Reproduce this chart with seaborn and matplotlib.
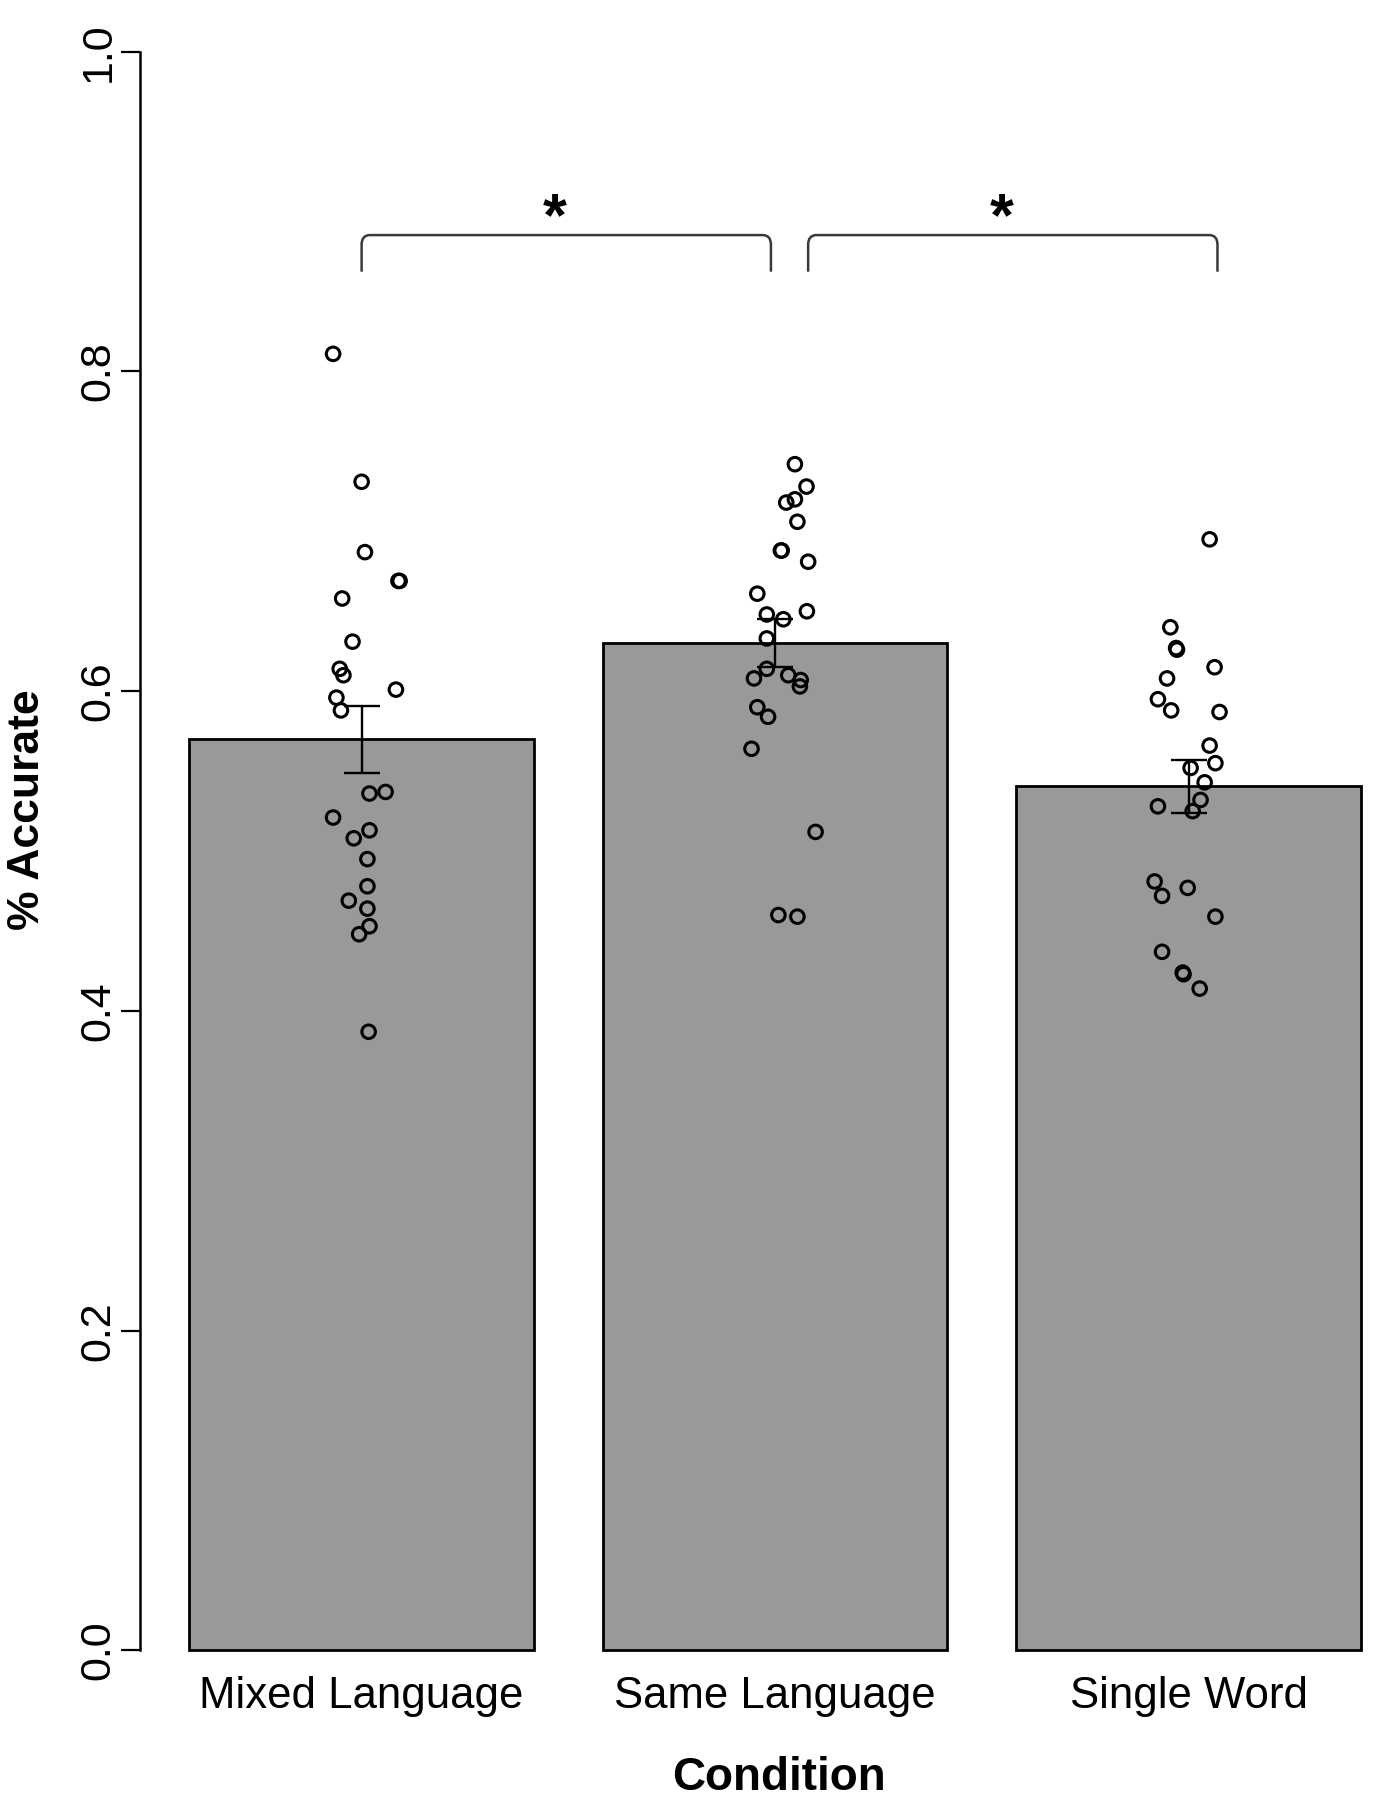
import matplotlib
matplotlib.use("Agg")
import numpy as np
import pandas as pd
import matplotlib.pyplot as plt
from matplotlib.path import Path
from matplotlib.patches import PathPatch
import seaborn as sns

# ---- data ----
conditions = ["Mixed Language", "Same Language", "Single Word"]
mean_acc = [0.570, 0.630, 0.5405]
sem_acc = [0.021, 0.015, 0.0165]

mixed_acc = [0.811, 0.731, 0.687, 0.669, 0.669, 0.658, 0.631, 0.614, 0.610, 0.601,
             0.596, 0.588, 0.536, 0.537, 0.521, 0.513, 0.508, 0.495, 0.478, 0.469,
             0.464, 0.453, 0.448, 0.387]
mixed_jit = [-0.069, 0.000, 0.008, 0.089, 0.092, -0.047, -0.022, -0.053, -0.044, 0.083,
             -0.061, -0.050, 0.019, 0.058, -0.069, 0.019, -0.019, 0.014, 0.014, -0.031,
             0.014, 0.019, -0.006, 0.017]

same_acc = [0.742, 0.728, 0.718, 0.720, 0.706, 0.688, 0.688, 0.681, 0.661, 0.650,
            0.648, 0.645, 0.633, 0.614, 0.610, 0.608, 0.607, 0.603, 0.590, 0.584,
            0.564, 0.512, 0.460, 0.459]
same_jit = [0.048, 0.076, 0.027, 0.048, 0.054, 0.014, 0.016, 0.080, -0.043, 0.077,
            -0.020, 0.020, -0.020, -0.020, 0.032, -0.051, 0.062, 0.060, -0.043, -0.017,
            -0.057, 0.098, 0.008, 0.054]

single_acc = [0.695, 0.640, 0.627, 0.626, 0.615, 0.608, 0.595, 0.588, 0.587, 0.566,
              0.555, 0.552, 0.543, 0.532, 0.525, 0.528, 0.481, 0.472, 0.477, 0.459,
              0.437, 0.424, 0.423, 0.414]
single_jit = [0.051, -0.044, -0.030, -0.028, 0.063, -0.052, -0.074, -0.042, 0.075, 0.051,
              0.065, 0.005, 0.039, 0.029, 0.010, -0.074, -0.082, -0.064, -0.002, 0.065,
              -0.064, -0.014, -0.012, 0.027]

# significance brackets (left end, right end) and their label
bracket_ends = [(0.0, 0.99), (1.08, 2.07)]
bracket_labels = ["*", "*"]

# long table of individual subjects
pts = pd.DataFrame({
    "condition": np.repeat(conditions, [len(mixed_acc), len(same_acc), len(single_acc)]),
    "accuracy": mixed_acc + same_acc + single_acc,
    "jitter": mixed_jit + same_jit + single_jit,
})
pts["xpos"] = pts["condition"].map({c: i for i, c in enumerate(conditions)}) + pts["jitter"]

# ---- plot ----
sns.set_style("ticks")
plt.rcParams["font.family"] = ["Liberation Sans", "DejaVu Sans"]
plt.rcParams["text.color"] = "black"
plt.rcParams["axes.labelcolor"] = "black"
plt.rcParams["xtick.color"] = "black"
plt.rcParams["ytick.color"] = "black"

fig = plt.figure(figsize=(13.75, 18), dpi=100)
ax = fig.add_axes([0.10182, 0.08306, 0.89818, 0.88822])

sns.barplot(x=conditions, y=mean_acc, color="#999999", saturation=1, width=0.833,
            edgecolor="black", linewidth=2, errorbar=None, ax=ax)
for p in ax.patches:
    p.set_clip_on(False)

ax.errorbar(range(len(conditions)), mean_acc, yerr=sem_acc, fmt="none", ecolor="black",
            elinewidth=1.7, capsize=13, capthick=1.7, zorder=3)

sns.scatterplot(data=pts, x="xpos", y="accuracy", marker="o", s=95, linewidth=2.2,
                edgecolor="black", legend=False, ax=ax, zorder=4)
ax.collections[-1].set_facecolor("none")
ax.collections[-1].set_edgecolor("black")

# brackets with rounded corners
y_top, y_leg = 0.8853, 0.8624
rx, ry = 0.02, 0.006
for (xa, xb), lab in zip(bracket_ends, bracket_labels):
    verts = [(xa, y_leg), (xa, y_top - ry), (xa, y_top), (xa + rx, y_top),
             (xb - rx, y_top), (xb, y_top), (xb, y_top - ry), (xb, y_leg)]
    codes = [Path.MOVETO, Path.LINETO, Path.CURVE3, Path.CURVE3,
             Path.LINETO, Path.CURVE3, Path.CURVE3, Path.LINETO]
    ax.add_patch(PathPatch(Path(verts, codes), fill=False, edgecolor="#3a3a3a", lw=1.8))
    ax.text((xa + xb) / 2 - 0.027, 0.885, lab, ha="center", va="baseline",
            fontsize=44, fontweight="bold")

ax.set_xlim(-0.536, 2.451)
ax.set_ylim(0, 1)
ax.set_yticks([0.0, 0.2, 0.4, 0.6, 0.8, 1.0])
ax.set_yticklabels(["0.0", "0.2", "0.4", "0.6", "0.8", "1.0"], rotation=90, va="center")
ax.tick_params(axis="y", length=13.5, width=1.6, pad=2, labelsize=31)
ax.tick_params(axis="x", length=0, pad=18.5, labelsize=31.5)

ax.set_xlabel("Condition", fontsize=33, fontweight="bold", va="center", ha="center")
ax.xaxis.set_label_coords(0.5174, -0.0797)
ax.set_ylabel("% Accurate", fontsize=32, fontweight="bold", va="center", ha="center")
ax.yaxis.set_label_coords(-0.0915, 0.5257)

sns.despine(ax=ax, bottom=True)
ax.spines["left"].set_linewidth(1.8)
ax.spines["left"].set_color("black")

fig.savefig("out.png", dpi=100)
